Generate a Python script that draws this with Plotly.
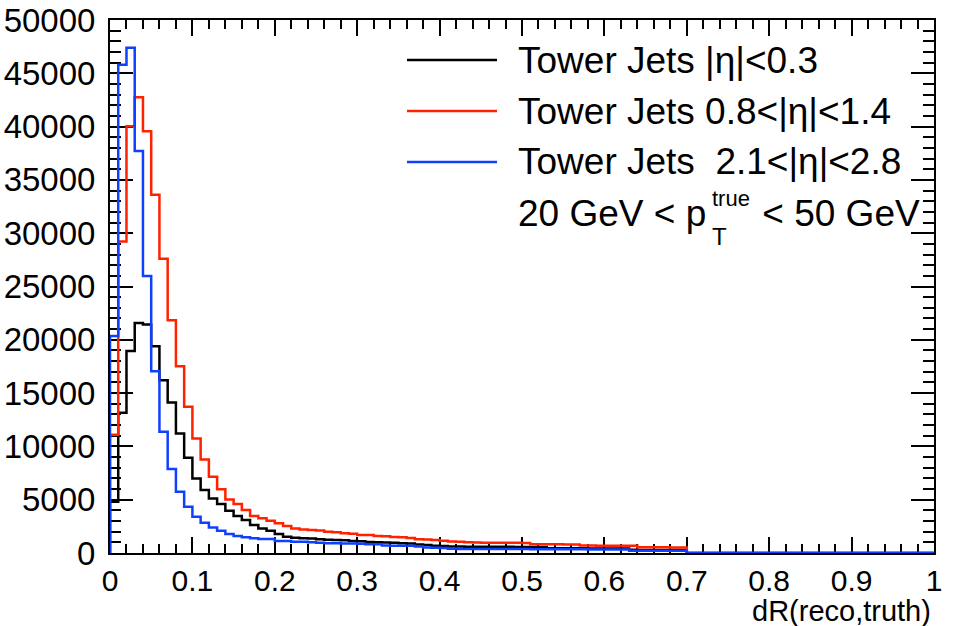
import plotly.graph_objects as go

# ---------------- data (bin contents, bin width 0.01 from 0 to 1) ----------------
BIN_WIDTH = 0.01
N_BINS = 100

black_eta03 = [4800, 13150, 18960, 21580, 21430, 19400, 16200, 14120, 11220, 8930,
               7000, 5900, 5120, 4590, 3960, 3470, 3090, 2620, 2310, 2090,
               1780, 1530, 1430, 1380, 1350, 1300, 1250, 1220, 1200, 1130,
               1100, 1040, 1020, 980, 960, 920, 900, 800, 760, 680,
               650, 610, 600, 590, 590, 590, 580, 580, 580, 570,
               570, 560, 560, 450, 450, 440, 440, 440, 430, 430,
               430, 420, 420, 300, 290, 290, 280, 280, 270, 270]

red_eta0814 = [11100, 29230, 40040, 42760, 39570, 33600, 27600, 21830, 17520, 13710,
               10750, 8780, 7150, 5970, 5030, 4590, 4030, 3470, 3250, 3030,
               2780, 2530, 2310, 2200, 2150, 2100, 2000, 1950, 1850, 1800,
               1700, 1680, 1600, 1580, 1500, 1470, 1400, 1300, 1260, 1220,
               1150, 1080, 1060, 1020, 980, 970, 970, 960, 960, 950,
               940, 830, 820, 810, 810, 800, 790, 700, 700, 690,
               690, 680, 680, 670, 540, 540, 530, 530, 520, 520]

blue_eta2128 = [20360, 45800, 47400, 37700, 25980, 17050, 11370, 7870, 5740, 4340,
                3400, 2840, 2400, 2090, 1780, 1590, 1470, 1380, 1310, 1310,
                1120, 1120, 1060, 1050, 1000, 950, 920, 910, 900, 880,
                860, 820, 810, 700, 690, 690, 680, 600, 520, 500,
                480, 400, 380, 380, 375, 375, 370, 370, 370, 365,
                365, 360, 360, 355, 355, 350, 350, 345, 340, 340,
                335, 330, 330, 220, 215, 210, 210, 205, 200, 200]

empty_tail = [0] * 30  # bins 0.70 - 1.00 are empty

series_names = ["Tower Jets |η|<0.3", "Tower Jets 0.8<|η|<1.4", "Tower Jets  2.1<|η|<2.8"]
series_colors = ["#000000", "#ff2200", "#1040ff"]
series_values = [black_eta03, red_eta0814, blue_eta2128]

x_tick_vals = [0, 0.1, 0.2, 0.3, 0.4, 0.5, 0.6, 0.7, 0.8, 0.9, 1.0]
x_tick_text = ["0", "0.1", "0.2", "0.3", "0.4", "0.5", "0.6", "0.7", "0.8", "0.9", "1"]
y_tick_vals = [0, 5000, 10000, 15000, 20000, 25000, 30000, 35000, 40000, 45000, 50000]
y_tick_text = [str(v) for v in y_tick_vals]

# ---------------- layout geometry ----------------
W, H = 953, 626
L, R, T, B = 110, 19, 20, 73
PW, PH = W - L - R, H - T - B
FONT = "Liberation Sans, Arial, Helvetica, sans-serif"


def px(xp):
    return (xp - L) / PW


def py(yp):
    return (H - B - yp) / PH


fig = go.Figure()

edges = [round(i * BIN_WIDTH, 2) for i in range(N_BINS + 1)]
for name, color, vals in zip(series_names, series_colors, series_values):
    full = vals + empty_tail
    xs = [0.0] + edges[:-1] + [edges[-1]]
    ys = [0] + full + [full[-1]]
    fig.add_trace(go.Scatter(x=xs, y=ys, mode="lines", line_shape="hv",
                             line=dict(color=color, width=2.5), name=name,
                             showlegend=False, hoverinfo="skip"))

axis_common = dict(showline=True, linecolor="black", linewidth=2, mirror="ticks",
                   ticks="inside", tickcolor="black", tickwidth=1.5,
                   showgrid=False, zeroline=False, layer="below traces",
                   automargin=False)

fig.update_layout(
    width=W, height=H,
    margin=dict(l=L, r=R, t=T, b=B, pad=0, autoexpand=False),
    paper_bgcolor="white", plot_bgcolor="white",
    xaxis=dict(range=[0, 1], tickvals=x_tick_vals, ticktext=x_tick_text, ticklen=16,
               ticklabelstandoff=0,
               tickfont=dict(family=FONT, size=30, color="black"),
               minor=dict(dtick=0.02, tick0=0, ticks="inside", ticklen=9,
                          tickwidth=1.5, tickcolor="black", showgrid=False),
               **axis_common),
    yaxis=dict(range=[0, 50000], tickvals=y_tick_vals, ticktext=y_tick_text, ticklen=23,
               ticklabelstandoff=6,
               tickfont=dict(family=FONT, size=33, color="black"),
               minor=dict(dtick=1000, tick0=0, ticks="inside", ticklen=11,
                          tickwidth=1.5, tickcolor="black", showgrid=False),
               **axis_common),
)

# legend (drawn manually, ROOT style)
legend_rows_y = [60, 111, 162]
for (name, color, yp) in zip(series_names, series_colors, legend_rows_y):
    fig.add_shape(type="line", xref="paper", yref="paper",
                  x0=px(407), x1=px(497), y0=py(yp), y1=py(yp),
                  line=dict(color=color, width=2.5))
    fig.add_annotation(xref="paper", yref="paper", x=px(516), y=py(yp), text=name,
                       showarrow=False, xanchor="left", yanchor="middle",
                       font=dict(family=FONT, size=37, color="black"))

# pT range label with stacked sub/superscript
fig.add_annotation(xref="paper", yref="paper", x=px(516), y=py(213), text="20 GeV < p",
                   showarrow=False, xanchor="left", yanchor="middle",
                   font=dict(family=FONT, size=37, color="black"))
fig.add_annotation(xref="paper", yref="paper", x=px(710), y=py(198), text="true",
                   showarrow=False, xanchor="left", yanchor="middle",
                   font=dict(family=FONT, size=22, color="black"))
fig.add_annotation(xref="paper", yref="paper", x=px(710), y=py(236), text="T",
                   showarrow=False, xanchor="left", yanchor="middle",
                   font=dict(family=FONT, size=24, color="black"))
fig.add_annotation(xref="paper", yref="paper", x=px(750), y=py(213), text=" < 50 GeV",
                   showarrow=False, xanchor="left", yanchor="middle",
                   font=dict(family=FONT, size=37, color="black"))

# x axis title, right aligned like ROOT
fig.add_annotation(xref="paper", yref="paper", x=px(933), y=py(611), text="dR(reco,truth)",
                   showarrow=False, xanchor="right", yanchor="middle",
                   font=dict(family=FONT, size=29, color="black"))

fig.write_html("out.html")
